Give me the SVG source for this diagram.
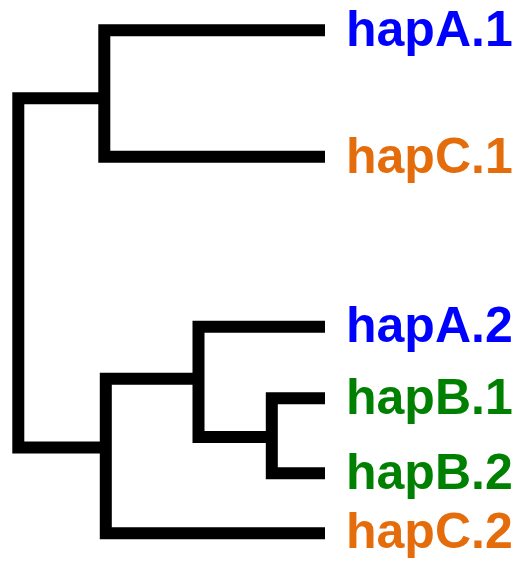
<svg xmlns="http://www.w3.org/2000/svg" width="525" height="562" viewBox="0 0 525 562">
<style>
.e{fill:none;stroke:#000;stroke-width:12;stroke-linejoin:miter;stroke-linecap:butt}
.t{font-family:"Liberation Sans",Arial,sans-serif;font-weight:bold;font-size:50px}
.a{fill:#0000ff}.b{fill:#008000}.c{fill:#e46c0a}
</style>
<rect width="525" height="562" fill="#fff"/>
<g id="edges">
<path class="e" d="M325,30.3H104.3V156.7H325"/>
<path class="e" d="M104.3,98.2H18.3V447.5H106"/>
<path class="e" d="M325,533.3H105.8V378.7H198.5"/>
<path class="e" d="M325,326.7H198.5V436.9H272"/>
<path class="e" d="M325,398.2H271.8V473.3H325"/>
</g>
<g id="hapA1"><text class="t a" x="346" y="45.7">hapA.1</text></g>
<g id="hapC1"><text class="t c" x="346" y="172.7">hapC.1</text></g>
<g id="hapA2"><text class="t a" x="346" y="341.7">hapA.2</text></g>
<g id="hapB1"><text class="t b" x="346" y="414.3">hapB.1</text></g>
<g id="hapB2"><text class="t b" x="346" y="489.3">hapB.2</text></g>
<g id="hapC2"><text class="t c" x="346" y="548.3">hapC.2</text></g>
</svg>
